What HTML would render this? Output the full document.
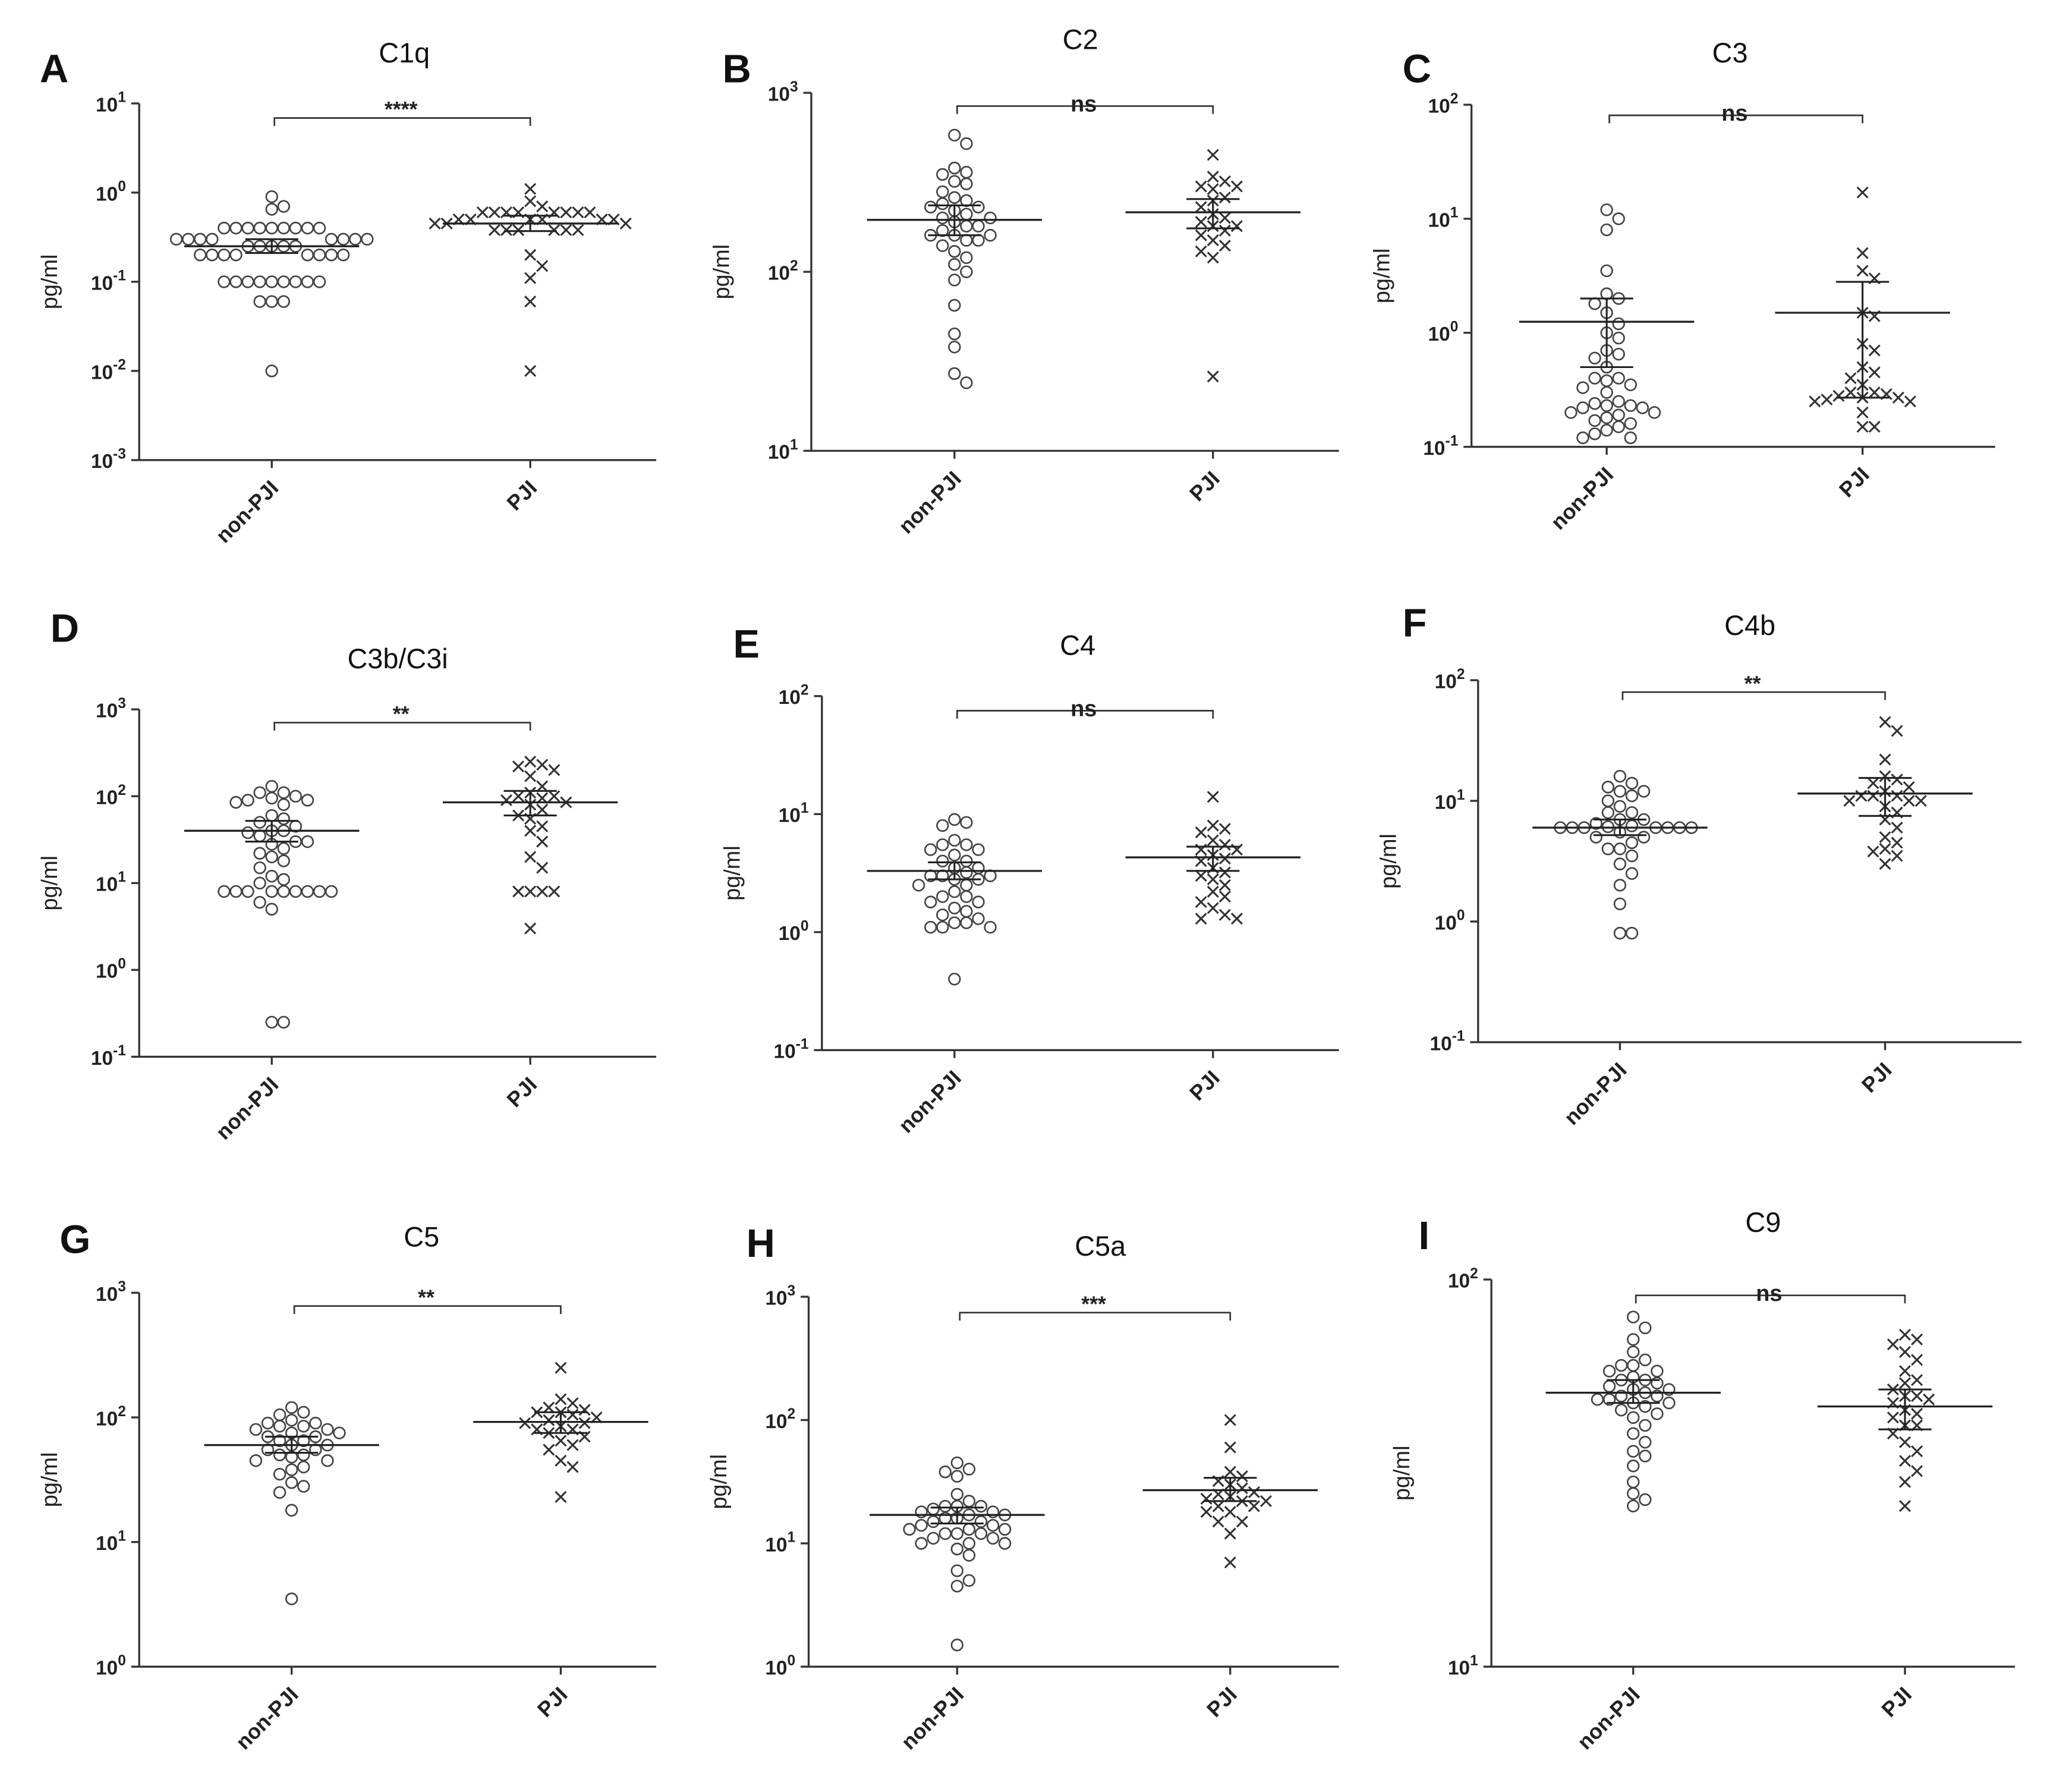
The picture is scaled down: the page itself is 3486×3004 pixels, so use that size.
<!DOCTYPE html>
<html><head><meta charset="utf-8"><style>
html,body{margin:0;padding:0;background:#fff;}
svg{display:block;font-family:"Liberation Sans",Arial,sans-serif;}
</style></head><body>
<svg id="fig" width="3486" height="3004" viewBox="0 0 1563 1347" preserveAspectRatio="none" xmlns="http://www.w3.org/2000/svg">
<rect x="0" y="0" width="1563" height="1347" fill="#fff"/>
</svg>
<script>
// ---- data ----
const panelNames = ["C1q","C2","C3","C3b/C3i","C4","C4b","C5","C5a","C9"];
const panelLetters = ["A","B","C","D","E","F","G","H","I"];
const categories = ["non-PJI","PJI"];
const sigLabels = ["****","ns","ns","**","ns","**","**","***","ns"];
const nonPJI = [
 [0.9,0.7,0.65,0.4,0.4,0.4,0.4,0.4,0.4,0.4,0.4,0.4,0.3,0.3,0.3,0.3,0.3,0.3,0.3,0.3,0.25,0.25,0.25,0.25,0.25,0.2,0.2,0.2,0.2,0.2,0.2,0.2,0.2,0.1,0.1,0.1,0.1,0.1,0.1,0.1,0.1,0.1,0.06,0.06,0.06,0.01],
 [580,520,380,360,350,320,310,280,260,250,240,230,230,220,210,200,200,190,180,180,170,160,160,160,150,150,140,130,120,110,100,90,65,45,38,27,24],
 [12,10,8,3.5,2.2,2,1.8,1.5,1.2,1,0.9,0.7,0.65,0.6,0.5,0.4,0.4,0.38,0.35,0.33,0.3,0.25,0.24,0.23,0.23,0.22,0.22,0.2,0.2,0.19,0.18,0.17,0.16,0.15,0.14,0.13,0.12,0.12],
 [130,110,110,100,95,90,90,85,80,60,55,50,45,40,40,38,35,30,30,28,25,22,20,18,15,12,11,10,8,8,8,8,8,8,8,8,8,6,5,0.25,0.25],
 [9,8.5,8,6,5.5,5.5,5,5,4.5,4,4,3.5,3.5,3.2,3,3,3,2.8,2.8,2.5,2.5,2.2,2,2,1.8,1.8,1.6,1.5,1.4,1.3,1.2,1.2,1.1,1.1,1.1,0.4],
 [16,14,13,12,12,11,10,9,8,8,7,7,6.5,6.2,6.1,6,6,6,6,6,6,6,5.5,5,5,4.5,4,4,3.5,3,2.5,2,1.4,0.8,0.8],
 [120,110,105,95,90,90,85,85,80,80,75,75,70,70,65,65,60,60,55,55,50,50,48,45,45,40,38,35,30,28,25,18,3.5],
 [45,40,38,35,25,22,20,20,20,19,18,18,17,17,16,16,15,15,14,14,13,13,13,12,12,12,11,11,10,10,10,9,8,6,5,4.5,1.5],
 [80,75,70,65,62,60,60,58,58,56,55,55,54,53,52,52,51,50,50,49,49,48,48,47,46,45,44,42,40,38,36,35,33,30,28,27,26]
];
const PJI = [
 [1.1,0.8,0.7,0.6,0.6,0.6,0.6,0.6,0.6,0.6,0.6,0.5,0.5,0.5,0.5,0.5,0.5,0.45,0.45,0.45,0.38,0.38,0.38,0.38,0.38,0.38,0.2,0.15,0.11,0.06,0.01],
 [450,340,320,300,300,290,260,250,230,210,200,190,180,180,170,160,150,140,130,120,26],
 [17,5,3.5,3,1.5,1.4,0.8,0.7,0.5,0.45,0.4,0.35,0.3,0.3,0.29,0.28,0.27,0.27,0.26,0.25,0.25,0.2,0.15,0.15],
 [250,230,220,200,170,130,110,100,100,95,90,85,80,70,60,55,45,40,30,20,15,8,8,8,8,3],
 [14,8,7.5,7,6,5.5,5,5,4.5,4.2,4,3.5,3.2,3,2.8,2.5,2.2,2,1.8,1.6,1.4,1.3,1.3],
 [45,38,22,16,15,14,13,12,11,11,11,10,10,10,9,8,7,6,5,4.5,4,3.8,3.5,3],
 [250,140,130,120,115,110,110,105,100,95,90,90,85,80,80,75,70,65,60,55,45,40,23],
 [100,60,38,35,32,30,28,26,25,24,23,22,22,20,20,18,18,15,15,12,7],
 [72,70,68,65,62,58,55,54,52,50,50,49,48,46,45,44,42,42,40,38,36,34,32,30,26]
];
const meanNon = [0.25,195,1.25,40,3.3,6,60,17,51];
const loNon = [0.21,160,0.5,30,2.8,5.2,52,14.5,48];
const hiNon = [0.3,235,2.0,52,3.9,7,70,19.5,55];
const meanPJI = [0.45,215,1.5,85,4.3,11.5,92,27,47];
const loPJI = [0.37,175,0.27,60,3.3,7.5,75,22,41];
const hiPJI = [0.55,255,2.8,115,5.3,15.5,110,34,52];
const expTop = [1,3,2,3,2,2,3,3,2];
const expBot = [-3,1,-1,-1,-1,-1,0,0,1];

// ---- layout (not data) ----
const L = [
 {x0:105,x1:495,yt:78,yb:347,c:[205,400],br:89,tx:305,ty:47,lx:30,ly:62},
 {x0:612,x1:1010,yt:70,yb:340,c:[720,915],br:80,tx:815,ty:37,lx:545,ly:62},
 {x0:1110,x1:1505,yt:79,yb:337,c:[1212,1405],br:87,tx:1305,ty:47,lx:1058,ly:62},
 {x0:105,x1:495,yt:535,yb:797,c:[205,400],br:545,tx:300,ty:504,lx:38,ly:484},
 {x0:620,x1:1010,yt:525,yb:792,c:[720,915],br:536,tx:813,ty:494,lx:553,ly:496},
 {x0:1115,x1:1525,yt:513,yb:786,c:[1222,1422],br:522,tx:1320,ty:479,lx:1058,ly:480},
 {x0:105,x1:495,yt:975,yb:1257,c:[220,423],br:985,tx:318,ty:940,lx:45,ly:945},
 {x0:610,x1:1010,yt:978,yb:1257,c:[722,928],br:990,tx:830,ty:947,lx:563,ly:948},
 {x0:1125,x1:1520,yt:965,yb:1257,c:[1232,1437],br:977,tx:1330,ty:929,lx:1070,ly:942}
];
const NS="http://www.w3.org/2000/svg";
const svg=document.getElementById('fig');
function mk(tag,attrs,parent){const e=document.createElementNS(NS,tag);for(const k in attrs)e.setAttribute(k,attrs[k]);(parent||svg).appendChild(e);return e;}
const INK="#333";

for(let p=0;p<9;p++){
 const g=L[p];
 const grp=mk('g',{});
 
 
 const yS=v=>g.yt+(expTop[p]-Math.log10(v))/(expTop[p]-expBot[p])*(g.yb-g.yt);
 // letter
 const lt=mk('text',{x:g.lx,y:g.ly,'font-size':30,'font-weight':'bold',fill:'#111'},grp);lt.textContent=panelLetters[p];
 
 const tt=mk('text',{x:g.tx,y:g.ty,'font-size':21,'text-anchor':'middle',fill:'#111'},grp);tt.textContent=panelNames[p];
 
 // axes
 const ya=mk('line',{x1:g.x0,y1:g.yt,x2:g.x0,y2:g.yb,stroke:INK,'stroke-width':1.5},grp);
 
 const xa=mk('line',{x1:g.x0,y1:g.yb,x2:g.x1,y2:g.yb,stroke:INK,'stroke-width':1.5},grp);
 
 for(let e=expBot[p];e<=expTop[p];e++){
  const y=yS(Math.pow(10,e));
  mk('line',{x1:g.x0-6,y1:y,x2:g.x0,y2:y,stroke:INK,'stroke-width':1.5},grp);
  const t=mk('text',{x:g.x0-10,y:y+6,'font-size':15,'font-weight':'bold','text-anchor':'end',fill:'#222'},grp);
  
  t.appendChild(document.createTextNode('10'));
  const s=mk('tspan',{dy:-7,'font-size':11},t);s.textContent=String(e).replace('-','-');
 }
 const yl=mk('text',{x:0,y:0,'font-size':17,'text-anchor':'middle',fill:'#222',transform:`translate(${g.x0-62},${(g.yt+g.yb)/2}) rotate(-90)`},grp);
 yl.textContent='pg/ml';
 for(let c=0;c<2;c++){
  const cx=g.c[c];
  mk('line',{x1:cx,y1:g.yb,x2:cx,y2:g.yb+6,stroke:INK,'stroke-width':1.5},grp);
  const t=mk('text',{x:0,y:0,'font-size':16,'font-weight':'bold','text-anchor':'end',fill:'#222',transform:`translate(${cx+6},${g.yb+22}) rotate(-45)`},grp);
  t.textContent=categories[c];
 }
 // bracket
 const br=mk('path',{d:`M${g.c[0]+2},${g.br+6}V${g.br}H${g.c[1]}V${g.br+6}`,fill:'none',stroke:INK,'stroke-width':1.2},grp);
 
 const st=mk('text',{x:(g.c[0]+g.c[1])/2,y:sigLabels[p]==='ns'?g.br+4:g.br-1,'font-size':sigLabels[p]==='ns'?17:16,'font-weight':'bold','text-anchor':'middle',fill:'#222'},grp);
 st.textContent=sigLabels[p];
 // points
 const sets=[nonPJI[p],PJI[p]];
 for(let c=0;c<2;c++){
  const placed=[];const d=9;
  const vals=sets[c].slice().sort((a,b)=>b-a);
  vals.forEach(v=>{
   const y=yS(v);let x=g.c[c];
   for(let k=0;k<60;k++){
    const off=(k%2?1:-1)*Math.ceil(k/2)*d;
    const tx=g.c[c]+off;
    if(placed.every(q=>Math.hypot(q[0]-tx,q[1]-y)>=d*0.95)){x=tx;break;}
   }
   placed.push([x,y]);
   let m;
   if(c===0){m=mk('circle',{cx:x,cy:y,r:4.2,fill:'none',stroke:'#444','stroke-width':1.2},grp);}
   else{m=mk('path',{d:`M${x-4},${y-4}L${x+4},${y+4}M${x-4},${y+4}L${x+4},${y-4}`,stroke:'#333','stroke-width':1.4},grp);}
   
   
  });
  const mn=[meanNon,meanPJI][c][p],lo=[loNon,loPJI][c][p],hi=[hiNon,hiPJI][c][p];
  const cx=g.c[c];
  const ml=mk('line',{x1:cx-66,y1:yS(mn),x2:cx+66,y2:yS(mn),stroke:'#222','stroke-width':1.5},grp);
  
  const eb=mk('path',{d:`M${cx},${yS(hi)}V${yS(lo)}M${cx-20},${yS(hi)}H${cx+20}M${cx-20},${yS(lo)}H${cx+20}`,stroke:'#222','stroke-width':1.4,fill:'none'},grp);
  
 }
}
</script>
</body></html>
